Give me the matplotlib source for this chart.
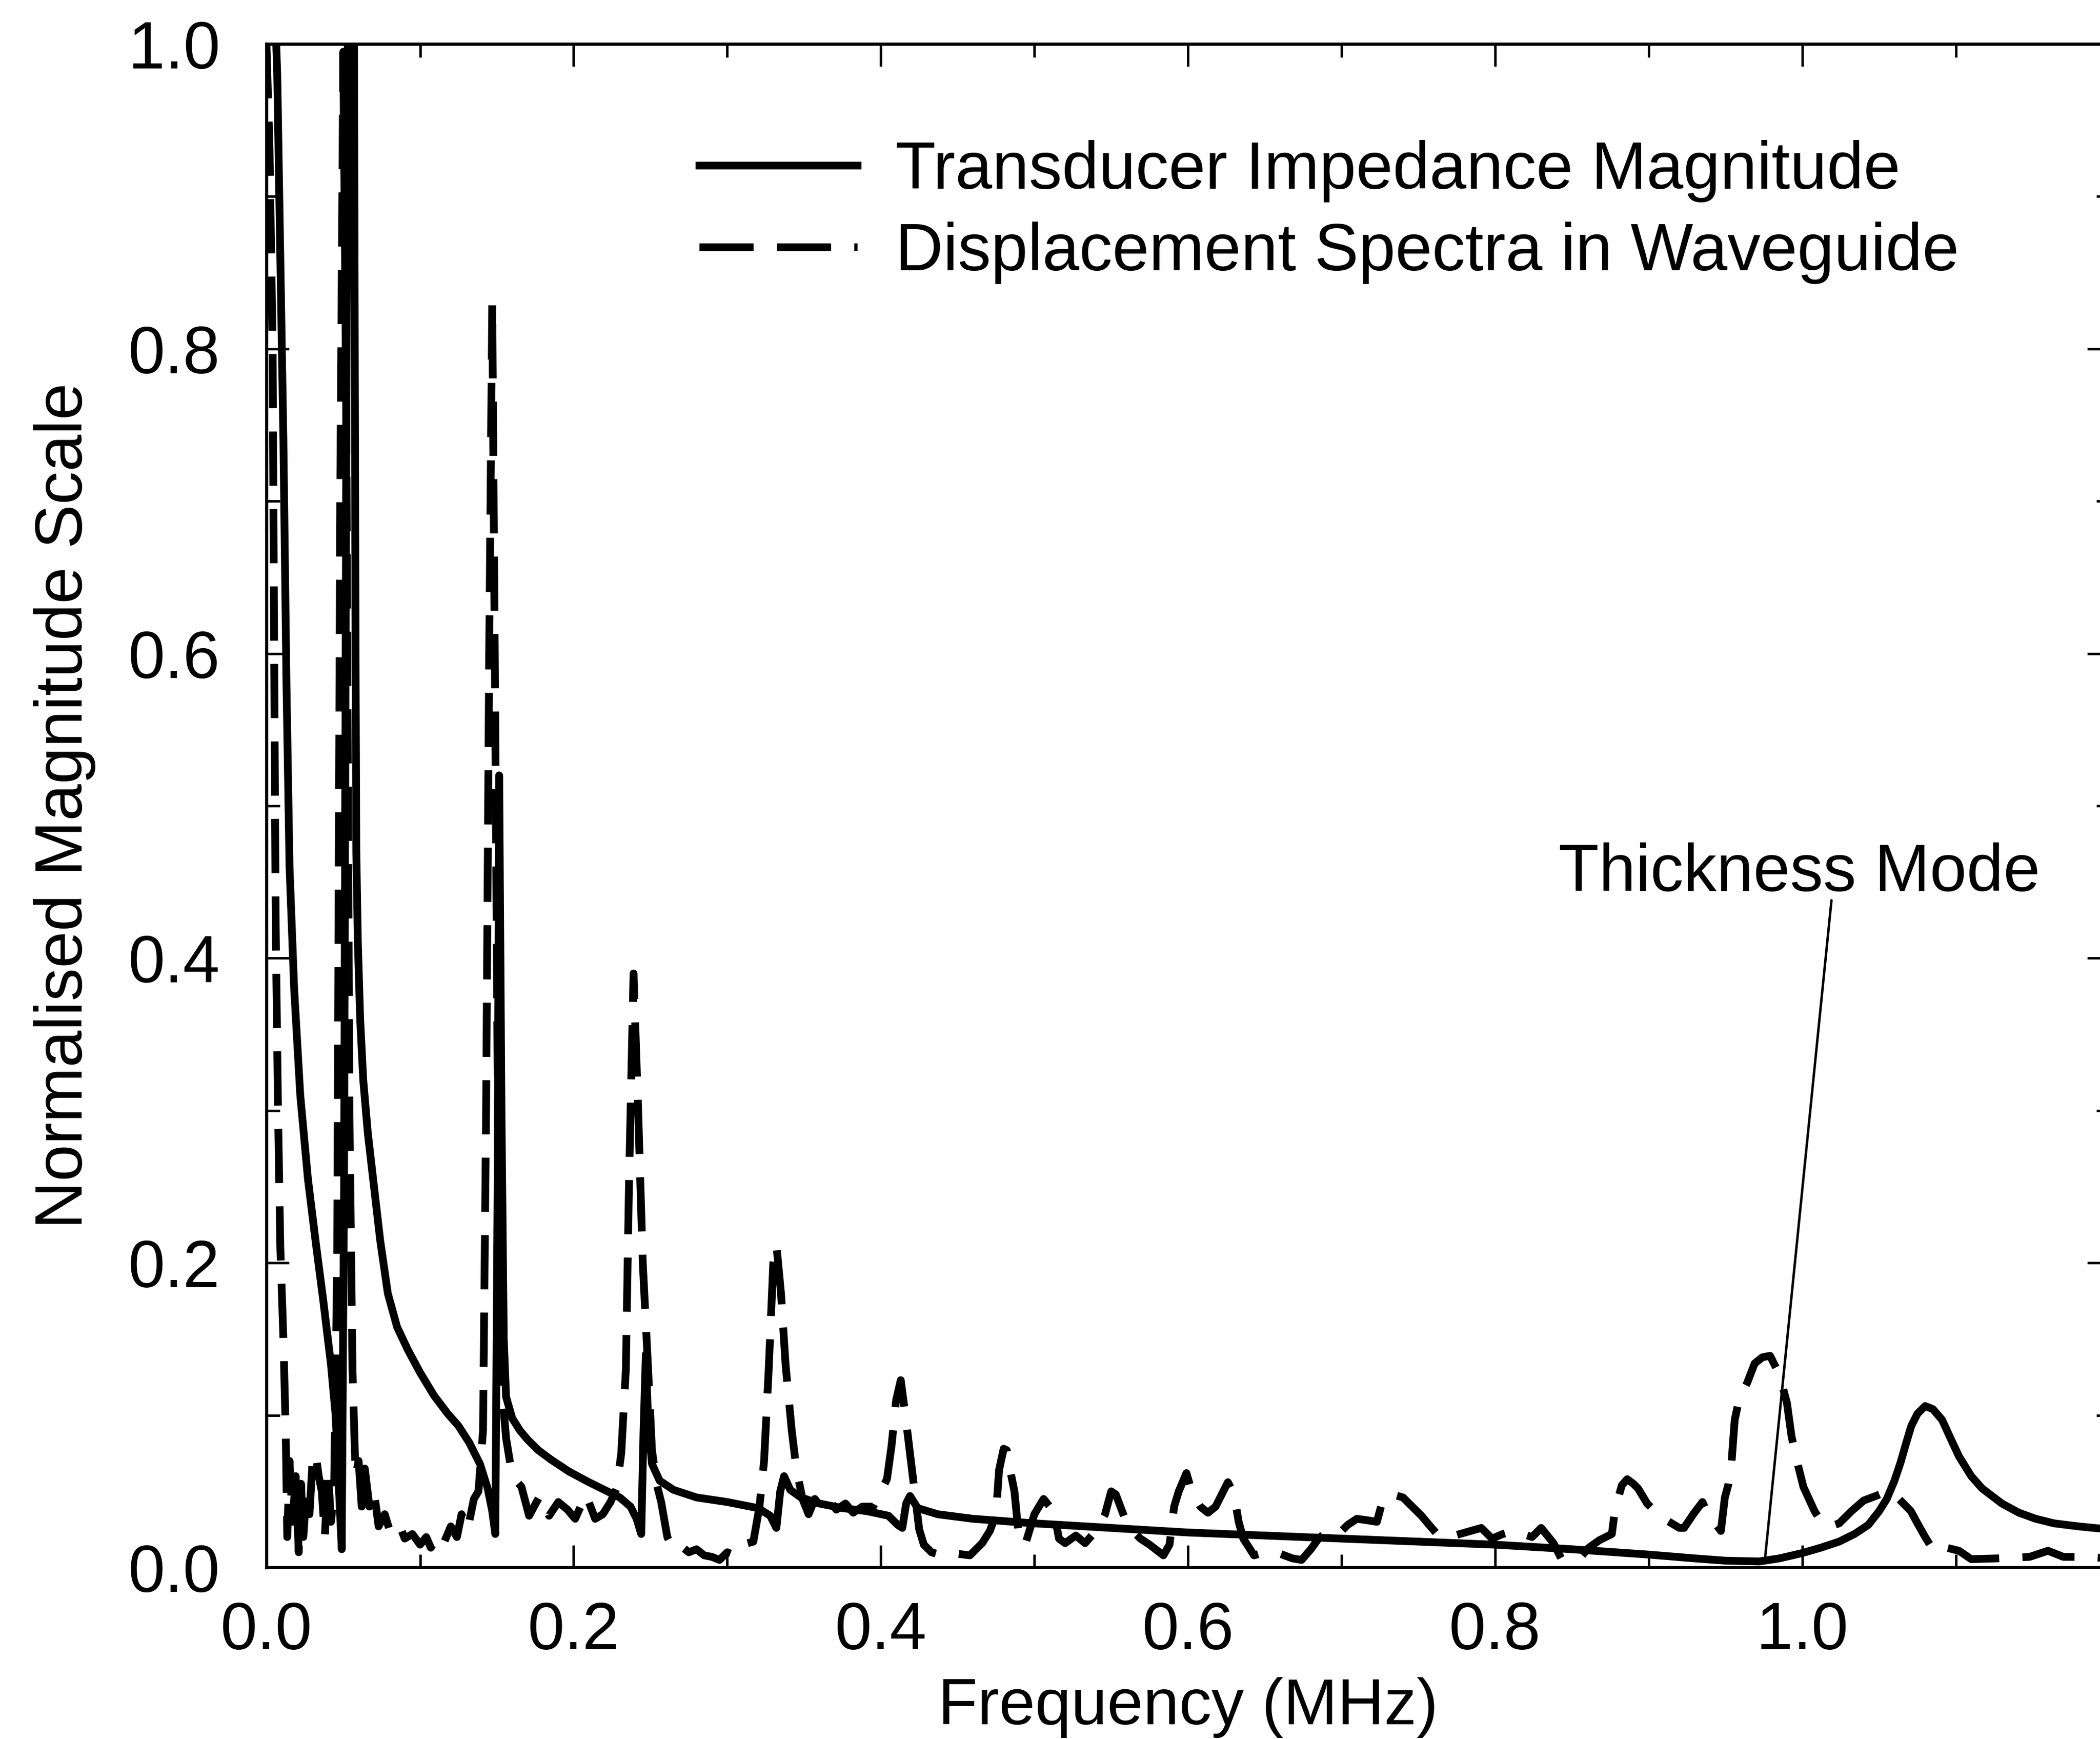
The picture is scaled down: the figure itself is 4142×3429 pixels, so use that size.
import matplotlib
matplotlib.use("Agg")
import matplotlib.pyplot as plt

plt.rcParams['font.family'] = ['Liberation Sans', 'DejaVu Sans']

# transducer impedance magnitude (solid)
imp_freq = [0.000, 0.005, 0.007, 0.009, 0.011, 0.013, 0.015, 0.018, 0.022, 0.027,
            0.032, 0.037, 0.042, 0.045, 0.047, 0.049, 0.0505, 0.052, 0.0535, 0.0555,
            0.057, 0.0575, 0.058, 0.0585, 0.0595, 0.061, 0.063, 0.066, 0.070, 0.074,
            0.079, 0.085, 0.092, 0.100, 0.109, 0.118, 0.125, 0.132, 0.139, 0.144,
            0.147, 0.149, 0.1505, 0.1515, 0.153, 0.1545, 0.156, 0.160, 0.165, 0.170,
            0.177, 0.185, 0.197, 0.210, 0.220, 0.230, 0.237, 0.241, 0.244, 0.2455,
            0.247, 0.2485, 0.251, 0.256, 0.265, 0.280, 0.300, 0.320, 0.328, 0.332,
            0.3345, 0.337, 0.341, 0.348, 0.360, 0.375, 0.391, 0.405, 0.411, 0.414,
            0.4165, 0.419, 0.424, 0.437, 0.46, 0.50, 0.55, 0.60, 0.65, 0.70,
            0.75, 0.80, 0.85, 0.90, 0.93, 0.95, 0.972, 0.985, 1.000, 1.012,
            1.024, 1.034, 1.043, 1.050, 1.055, 1.060, 1.064, 1.068, 1.071, 1.075,
            1.080, 1.085, 1.091, 1.096, 1.102, 1.110, 1.117, 1.130, 1.141, 1.152,
            1.164, 1.180, 1.200]
imp_mag = [1.15, 1.04, 0.98, 0.86, 0.74, 0.58, 0.46, 0.38, 0.31, 0.255,
           0.214, 0.175, 0.133, 0.10, 0.055, 0.012, 0.25, 0.75, 1.15, 1.15,
           1.0, 0.8, 0.6, 0.47, 0.41, 0.36, 0.32, 0.285, 0.25, 0.215,
           0.18, 0.158, 0.143, 0.128, 0.113, 0.101, 0.093, 0.082, 0.068, 0.052,
           0.037, 0.022, 0.25, 0.52, 0.30, 0.15, 0.112, 0.098, 0.09, 0.084,
           0.077, 0.071, 0.063, 0.056, 0.051, 0.046, 0.040, 0.032, 0.022, 0.09,
           0.14, 0.095, 0.068, 0.057, 0.051, 0.046, 0.043, 0.039, 0.034, 0.026,
           0.05, 0.06, 0.051, 0.046, 0.042, 0.039, 0.037, 0.034, 0.028, 0.026,
           0.042, 0.047, 0.039, 0.035, 0.032, 0.029, 0.026, 0.023, 0.021, 0.019,
           0.017, 0.015, 0.012, 0.0085, 0.006, 0.0045, 0.004, 0.006, 0.0095, 0.013,
           0.017, 0.022, 0.028, 0.037, 0.045, 0.057, 0.069, 0.083, 0.093, 0.101,
           0.106, 0.104, 0.097, 0.086, 0.073, 0.060, 0.052, 0.042, 0.036, 0.032,
           0.029, 0.027, 0.025]

# displacement spectra in waveguide (dashed)
disp_freq = [0.000, 0.002, 0.004, 0.005, 0.006, 0.0075, 0.009, 0.011, 0.0125, 0.0135,
             0.015, 0.017, 0.019, 0.021, 0.0225, 0.024, 0.026, 0.028, 0.030, 0.032,
             0.034, 0.036, 0.038, 0.040, 0.042, 0.044, 0.046, 0.048, 0.050, 0.052,
             0.054, 0.056, 0.058, 0.060, 0.062, 0.064, 0.067, 0.070, 0.073, 0.077,
             0.080, 0.084, 0.087, 0.090, 0.095, 0.100, 0.104, 0.107, 0.111, 0.115,
             0.120, 0.124, 0.127, 0.131, 0.135, 0.138, 0.141, 0.143, 0.145, 0.147,
             0.149, 0.151, 0.153, 0.156, 0.160, 0.166, 0.171, 0.178, 0.184, 0.190,
             0.196, 0.201, 0.208, 0.214, 0.219, 0.224, 0.228, 0.231, 0.234, 0.236,
             0.239, 0.242, 0.245, 0.248, 0.251, 0.254, 0.257, 0.261, 0.265, 0.270,
             0.275, 0.280, 0.285, 0.290, 0.295, 0.300, 0.305, 0.310, 0.317, 0.321,
             0.324, 0.327, 0.330, 0.332, 0.335, 0.338, 0.342, 0.345, 0.349, 0.353,
             0.357, 0.361, 0.366, 0.371, 0.377, 0.382, 0.388, 0.395, 0.400, 0.404,
             0.407, 0.410, 0.413, 0.416, 0.419, 0.422, 0.425, 0.428, 0.433, 0.440,
             0.450, 0.458, 0.466, 0.471, 0.475, 0.477, 0.480, 0.482, 0.485, 0.487,
             0.490, 0.494, 0.500, 0.506, 0.510, 0.513, 0.516, 0.520, 0.527, 0.533,
             0.540, 0.546, 0.550, 0.553, 0.556, 0.559, 0.564, 0.569, 0.575, 0.584,
             0.588, 0.591, 0.594, 0.599, 0.603, 0.608, 0.613, 0.618, 0.623, 0.626,
             0.630, 0.633, 0.636, 0.643, 0.650, 0.660, 0.668, 0.674, 0.680, 0.685,
             0.691, 0.698, 0.704, 0.710, 0.717, 0.723, 0.727, 0.733, 0.740, 0.746,
             0.752, 0.757, 0.763, 0.770, 0.777, 0.784, 0.791, 0.798, 0.805, 0.812,
             0.818, 0.824, 0.830, 0.838, 0.843, 0.850, 0.855, 0.861, 0.868, 0.876,
             0.878, 0.8825, 0.886, 0.890, 0.893, 0.899, 0.905, 0.910, 0.915, 0.920,
             0.923, 0.929, 0.935, 0.939, 0.944, 0.947, 0.9496, 0.952, 0.954, 0.956,
             0.959, 0.964, 0.969, 0.974, 0.979, 0.985, 0.990, 0.993, 0.997, 1.0007,
             1.008, 1.013, 1.018, 1.024, 1.032, 1.040, 1.048, 1.055, 1.062, 1.0707,
             1.075, 1.080, 1.086, 1.094, 1.102, 1.110, 1.127, 1.148, 1.160, 1.170,
             1.185, 1.200]
disp_mag = [1.0, 0.93, 0.80, 0.6, 0.42, 0.3, 0.21, 0.15, 0.09, 0.02,
            0.07, 0.03, 0.06, 0.01, 0.055, 0.02, 0.05, 0.035, 0.07, 0.075,
            0.06, 0.05, 0.02, 0.065, 0.03, 0.05, 0.2, 0.7, 0.995, 0.75,
            0.3, 0.13, 0.06, 0.07, 0.04, 0.065, 0.04, 0.05, 0.027, 0.035,
            0.025, 0.03, 0.027, 0.019, 0.022, 0.015, 0.02, 0.013, 0.02, 0.015,
            0.027, 0.02, 0.035, 0.025, 0.045, 0.05, 0.09, 0.3, 0.6, 0.83,
            0.55, 0.25, 0.12, 0.085, 0.06, 0.053, 0.034, 0.047, 0.034, 0.043,
            0.038, 0.032, 0.048, 0.032, 0.035, 0.043, 0.052, 0.075, 0.13, 0.25,
            0.39, 0.3, 0.2, 0.14, 0.077, 0.055, 0.043, 0.02, 0.012, 0.014,
            0.01, 0.012, 0.008, 0.007, 0.005, 0.01, 0.008, 0.015, 0.017, 0.04,
            0.07, 0.13, 0.2, 0.212, 0.18, 0.133, 0.09, 0.065, 0.045, 0.035,
            0.045, 0.04, 0.045, 0.038, 0.042, 0.036, 0.04, 0.04, 0.05, 0.058,
            0.08, 0.11, 0.123, 0.1, 0.075, 0.05, 0.025, 0.015, 0.01, 0.008,
            0.009, 0.008, 0.016, 0.024, 0.035, 0.064, 0.078, 0.077, 0.06, 0.05,
            0.019, 0.015, 0.035, 0.045, 0.04, 0.035, 0.019, 0.016, 0.021, 0.016,
            0.024, 0.035, 0.05, 0.048, 0.04, 0.032, 0.024, 0.019, 0.015, 0.008,
            0.015, 0.04, 0.05, 0.062, 0.048, 0.04, 0.036, 0.04, 0.05, 0.056,
            0.048, 0.03, 0.019, 0.008, 0.01, 0.009, 0.006, 0.005, 0.012, 0.019,
            0.024, 0.022, 0.028, 0.032, 0.031, 0.03, 0.045, 0.048, 0.046, 0.04,
            0.034, 0.028, 0.021, 0.02, 0.022, 0.024, 0.026, 0.019, 0.022, 0.024,
            0.022, 0.02, 0.026, 0.016, 0.006, 0.005, 0.006, 0.013, 0.018, 0.022,
            0.038, 0.054, 0.058, 0.055, 0.052, 0.042, 0.036, 0.032, 0.029, 0.026,
            0.026, 0.035, 0.043, 0.034, 0.028, 0.024, 0.046, 0.055, 0.07, 0.097,
            0.111, 0.121, 0.134, 0.138, 0.139, 0.127, 0.108, 0.086, 0.068, 0.053,
            0.037, 0.029, 0.027, 0.029, 0.037, 0.044, 0.047, 0.05, 0.046, 0.037,
            0.029, 0.02, 0.0103, 0.013, 0.011, 0.0055, 0.006, 0.007, 0.011, 0.007,
            0.007, 0.006]

xticks = [0.0, 0.2, 0.4, 0.6, 0.8, 1.0]
xminor = [0.1, 0.3, 0.5, 0.7, 0.9, 1.1]
yticks = [0.0, 0.2, 0.4, 0.6, 0.8, 1.0]
yminor = [0.1, 0.3, 0.5, 0.7, 0.9]

FS = 94

fig = plt.figure(figsize=(41.42, 34.29), dpi=100)
# right spine sits just past the figure edge, like the cropped scan
ax = fig.add_axes([0.1269, 0.0986, 0.8776, 0.876])

ax.plot(imp_freq, imp_mag, color='black', lw=11, solid_joinstyle='round',
        label='Transducer Impedance Magnitude')
ax.plot(disp_freq, disp_mag, color='black', lw=11, ls=(0, (7, 3)),
        dash_joinstyle='round', label='Displacement Spectra in Waveguide')

ax.set_xlim(0, 1.2)
ax.set_ylim(0, 1.0)

ax.set_xticks(xticks)
ax.set_xticklabels([f'{t:.1f}' for t in xticks])
ax.set_xticks(xminor, minor=True)
ax.set_yticks(yticks)
ax.set_yticklabels([f'{t:.1f}' for t in yticks])
ax.set_yticks(yminor, minor=True)

ax.tick_params(which='both', direction='in', top=True, right=True, width=3.5,
               labelsize=FS)
ax.tick_params(which='major', length=32)
ax.tick_params(which='minor', length=19)
ax.tick_params(axis='x', pad=47)
ax.tick_params(axis='y', pad=66)

for s in ax.spines.values():
    s.set_linewidth(4.5)

ax.set_xlabel('Frequency (MHz)', fontsize=92, labelpad=20)
ax.set_ylabel('Normalised Magnitude Scale', fontsize=FS, labelpad=46)

leg = ax.legend(loc='upper left', bbox_to_anchor=(0.333, 0.9195),
                bbox_transform=fig.transFigure, frameon=False, fontsize=FS,
                handlelength=2.39, handletextpad=0.57, labelspacing=0.29,
                borderpad=0, borderaxespad=0)

# thickness mode callout
ax.text(0.998, 0.4556, 'Thickness Mode', fontsize=FS, ha='center', va='center')
ax.annotate('', xy=(0.9756, 0.0044), xytext=(1.019, 0.438),
            arrowprops=dict(arrowstyle='-', lw=3.5, color='black',
                            shrinkA=0, shrinkB=0))

fig.savefig('out.png', dpi=100)
